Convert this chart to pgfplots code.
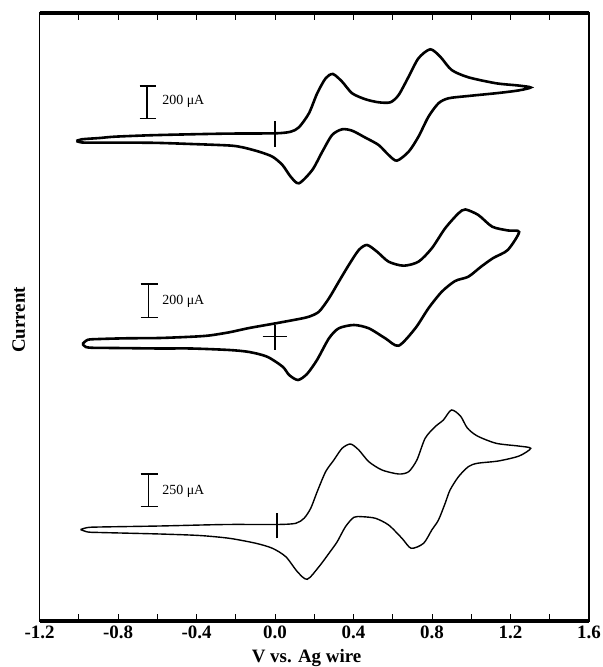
\documentclass[border=0pt]{standalone}
\usepackage{pgfplots}
\pgfplotsset{compat=1.18}
\usepackage{fontspec}
\setmainfont{Liberation Serif}
\begin{document}
\begin{tikzpicture}
\begin{axis}[
  at={(0,0)}, anchor=south west,
  scale only axis, width=549.5bp, height=608bp,
  xmin=-1.2, xmax=1.6, ymin=0, ymax=608,
  xtick={-1.2,-0.8,-0.4,0.0,0.4,0.8,1.2,1.6},
  xticklabels={-1.2,-0.8,-0.4,0.0,0.4,0.8,1.2,1.6},
  minor xtick={-1.0,-0.6,-0.2,0.2,0.6,1.0,1.4},
  ytick=\empty,
  tick align=inside,
  xticklabel pos=lower,
  major tick length=7bp, minor tick length=7bp,
  tick style={line width=0.8bp, black},
  axis line style={line width=1.6bp},
  xticklabel style={font=\bfseries\fontsize{19}{19}\selectfont, anchor=base, yshift=-17bp},
  clip=false,
]
% Curve 1 (top)
\addplot[line width=2.6bp, smooth, tension=0.45] coordinates {
(-1.012,480.0) (-0.984,481.7) (-0.893,483.0) (-0.817,484.3) (-0.639,485.7) (-0.428,486.7)
(-0.233,487.4) (0.004,487.7) (0.080,489.3) (0.122,493.7) (0.173,507.7) (0.215,527.7)
(0.258,542.7) (0.295,547) (0.342,539.3) (0.393,527.7) (0.461,521.7) (0.528,518.7)
(0.588,518.7) (0.630,526) (0.681,544.3) (0.731,562.7) (0.791,571.7) (0.842,564.3)
(0.900,551) (0.985,543.7) (1.127,537.7) (1.239,535.5) (1.303,533.5)
(1.239,530.5) (1.138,528) (0.985,525) (0.884,522.7) (0.833,517.7) (0.782,504.3)
(0.731,484.3) (0.681,469.3) (0.621,460.3) (0.579,466) (0.528,476) (0.461,483.3)
(0.393,490.3) (0.342,491.7) (0.291,486) (0.241,469.3) (0.190,451) (0.122,437.7)
(0.080,444.3) (0.038,456) (-0.013,464.3) (-0.081,469.3) (-0.166,473.7) (-0.233,475.5)
(-0.428,477) (-0.624,478.2) (-0.893,478.4) (-0.984,478.5) (-1.012,480.0)
};
% Curve 2 (middle)
\addplot[line width=2.6bp, smooth, tension=0.45] coordinates {
(-0.981,277) (-0.954,281.2) (-0.893,282) (-0.757,282.7) (-0.588,283) (-0.421,284.3)
(-0.335,285.5) (-0.233,288.7) (-0.131,293) (0.004,297.7) (0.122,302) (0.173,304.3)
(0.224,309.3) (0.275,322.7) (0.325,339.3) (0.376,356) (0.427,371) (0.469,376)
(0.520,369.3) (0.579,359.3) (0.655,355.3) (0.731,359.3) (0.799,372.7) (0.867,392.7)
(0.935,407.7) (0.970,411.5) (1.036,406) (1.107,394.3) (1.188,390.5) (1.244,389)
(1.186,371) (1.112,363) (1.050,354.3) (0.985,344.3) (0.918,340)
(0.850,329.3) (0.782,312.7) (0.715,292.7) (0.630,275.3) (0.562,282.7) (0.478,292.7)
(0.402,296) (0.325,292.7) (0.275,282.7) (0.214,261) (0.163,247) (0.117,241)
(0.072,246) (0.039,254.3) (-0.040,264.3) (-0.131,269) (-0.233,271) (-0.428,272.5)
(-0.588,272.5) (-0.817,273) (-0.928,273.2) (-0.964,274) (-0.981,277)
};
% Curve 3 (bottom)
\addplot[line width=1.4bp, smooth, tension=0.45] coordinates {
(-0.991,91.5) (-0.954,93.5) (-0.893,94) (-0.588,95) (-0.250,96.5) (0.012,96.5)
(0.106,97.7) (0.148,102.7) (0.182,112.7) (0.215,129.3) (0.258,149.3) (0.300,161)
(0.342,172.7) (0.385,177) (0.427,171) (0.478,159.3) (0.545,151) (0.630,147)
(0.681,149.3) (0.723,161) (0.765,182.7) (0.816,194.3) (0.858,201) (0.899,211)
(0.945,205) (0.980,193) (1.031,185) (1.127,177.7) (1.239,175) (1.303,172.7)
(1.244,165) (1.138,160) (1.031,157.7) (0.985,154.3) (0.935,144.3) (0.892,131)
(0.867,117.7) (0.833,101) (0.799,91) (0.757,77.7) (0.694,72.7) (0.647,82.7)
(0.579,96) (0.512,102.7) (0.444,104.3) (0.402,103.7) (0.359,94.3) (0.317,79.3)
(0.275,67.7) (0.224,54.3) (0.164,41.7) (0.114,49.3) (0.055,64.3) (-0.013,72.7)
(-0.097,77.7) (-0.233,82.7) (-0.385,85.5) (-0.588,87) (-0.893,88.5) (-0.954,89)
(-0.991,91.5)
};
% crosshair markers at 0 V
\addplot[line width=1.3bp] coordinates {(0,474.3) (0,500)};
\addplot[line width=1.3bp] coordinates {(-0.063,284.3) (0.063,284.3)};
\addplot[line width=1.3bp] coordinates {(0,271) (0,296)};
\addplot[line width=1.3bp] coordinates {(0.01,82.7) (0.01,108.3)};
% scale bars
\addplot[line width=1.3bp] coordinates {(-0.652,535) (-0.652,502.5)};
\addplot[line width=1.3bp] coordinates {(-0.690,535) (-0.606,535)};
\addplot[line width=1.3bp] coordinates {(-0.690,502.5) (-0.606,502.5)};
\addplot[line width=1.3bp] coordinates {(-0.643,337) (-0.643,303.3)};
\addplot[line width=1.3bp] coordinates {(-0.685,337) (-0.597,337)};
\addplot[line width=1.3bp] coordinates {(-0.685,303.3) (-0.597,303.3)};
\addplot[line width=1.3bp] coordinates {(-0.643,147) (-0.643,114.3)};
\addplot[line width=1.3bp] coordinates {(-0.685,147) (-0.597,147)};
\addplot[line width=1.3bp] coordinates {(-0.685,114.3) (-0.597,114.3)};
\node[anchor=west, inner sep=0pt, font=\fontsize{14}{14}\selectfont] at (axis cs:-0.575,519.3) {200 μA};
\node[anchor=west, inner sep=0pt, font=\fontsize{14}{14}\selectfont] at (axis cs:-0.575,319.3) {200 μA};
\node[anchor=west, inner sep=0pt, font=\fontsize{14}{14}\selectfont] at (axis cs:-0.575,129.3) {250 μA};
% thick top and bottom frame
\draw[line width=3.5bp] (rel axis cs:0,0) -- (rel axis cs:1,0);
\draw[line width=3.5bp] (rel axis cs:0,1) -- (rel axis cs:1,1);
% axis titles
\node[anchor=base, inner sep=0pt, font=\bfseries\fontsize{19}{19}\selectfont] at ([yshift=-41.6bp]rel axis cs:0.486,0) {V vs. Ag wire};
\node[anchor=base, rotate=90, inner sep=0pt, font=\bfseries\fontsize{19}{19}\selectfont] at ([xshift=-14.5bp]rel axis cs:0,0.495) {Current};
\end{axis}
\pgfresetboundingbox
\path[use as bounding box] (-39.5bp,-46bp) rectangle (563.5bp,621bp);
\end{tikzpicture}
\end{document}
